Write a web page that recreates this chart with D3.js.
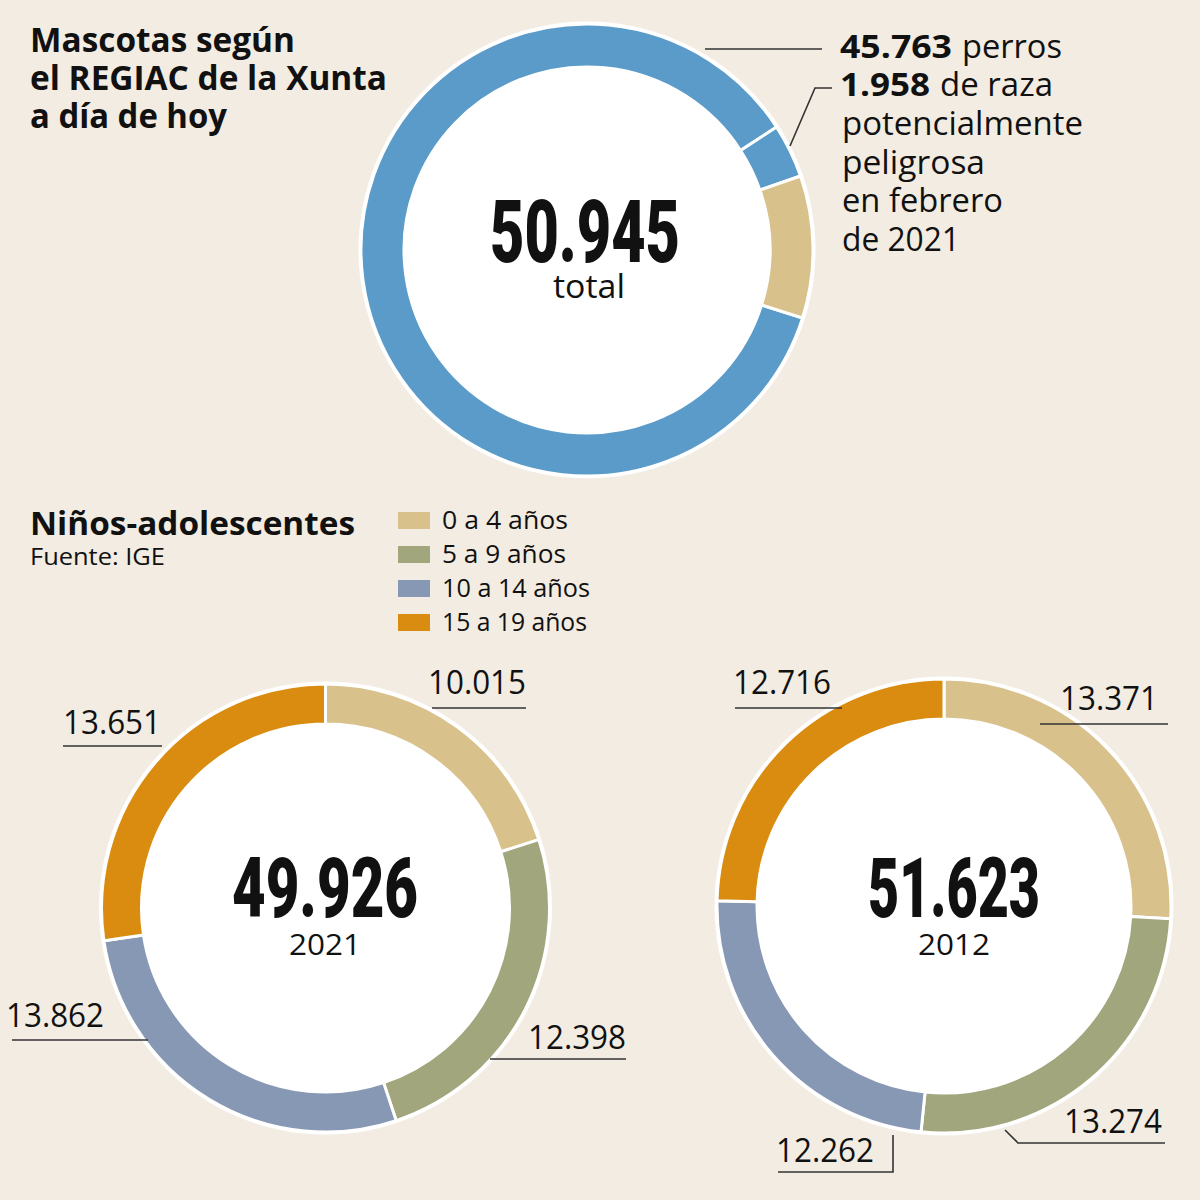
<!DOCTYPE html>
<html><head><meta charset="utf-8">
<script src="https://cdn.jsdelivr.net/npm/d3@7/dist/d3.min.js"></script>
<style>
html,body{margin:0;padding:0;background:#f3ece2;}
svg{display:block;}
</style></head>
<body><div id="chart"></div>
<script>
// ---------- DATA ----------
const topCategories = ["Perros (otras razas)", "Perros de raza potencialmente peligrosa", "Otras mascotas"];
const topValues = [43805, 1958, 5182];
const topTotal = 50945;
const topDogs = 45763;
const topDangerous = 1958;

const ageGroups = ["0 a 4 años", "5 a 9 años", "10 a 14 años", "15 a 19 años"];
const values2021 = [10015, 12398, 13862, 13651];
const values2012 = [13371, 13274, 12262, 12716];
const years = ["2021", "2012"];

// ---------- STYLE ----------
const W = 1200, H = 1200;
const bg = "#f3ece2";
const topColors = ["#5a9bc9", "#5a9bc9", "#d9c18b"];
const ageColor = d3.scaleOrdinal().domain(ageGroups).range(["#d9c18b", "#a1a67d", "#8798b4", "#d98c10"]);
const ink = "#111";
const bodyFont = "'Open Sans', 'Noto Sans', sans-serif";
const bigFont = "Roboto, 'Liberation Sans', sans-serif";

const es = d3.formatLocale({decimal: ",", thousands: ".", grouping: [3], currency: ["", "€"]});
const fmt = es.format(",d");

const svg = d3.select("#chart").append("svg").attr("width", W).attr("height", H);
svg.append("rect").attr("width", W).attr("height", H).attr("fill", bg);

function txt(g, s, x, y, opts) {
  const t = g.append("text").attr("x", x).attr("y", y).text(s)
    .attr("font-family", opts.family || bodyFont)
    .attr("font-size", opts.size)
    .attr("font-weight", opts.weight || 400)
    .attr("fill", ink)
    .attr("text-anchor", opts.anchor || "start");
  if (opts.len) t.attr("textLength", opts.len).attr("lengthAdjust", "spacingAndGlyphs");
  return t;
}

function donut(cx, cy, rOut, rIn, values, colors, startAngle) {
  const g = svg.append("g").attr("transform", `translate(${cx},${cy})`);
  g.append("circle").attr("r", rOut + 2.5).attr("fill", "#fff");
  const pie = d3.pie().sort(null).value(d => d)
    .startAngle(startAngle).endAngle(startAngle + 2 * Math.PI);
  const arc = d3.arc().innerRadius(rIn).outerRadius(rOut);
  g.selectAll("path").data(pie(values)).join("path")
    .attr("d", arc)
    .attr("fill", (d, i) => colors[i])
    .attr("stroke", "#fff").attr("stroke-width", 3);
  return g;
}

// ---------- TOP: Mascotas ----------
const titleLines = ["Mascotas según", "el REGIAC de la Xunta", "a día de hoy"];
const titleLens = [265, 357, 197];
titleLines.forEach((s, i) => txt(svg, s, 30, 52 + i * 38, {size: 34, weight: 700, len: titleLens[i]}));

donut(587, 250, 226, 183, topValues, topColors, 107.5 * Math.PI / 180);

txt(svg, fmt(topTotal), 585, 262, {size: 88, weight: 900, family: bigFont, anchor: "middle", len: 190});
txt(svg, "total", 589, 298, {size: 32, anchor: "middle", len: 72});

// right annotation
const ann = svg.append("g");
const t1 = ann.append("text").attr("x", 840).attr("y", 58).attr("font-family", bodyFont).attr("font-size", 33).attr("fill", ink);
t1.append("tspan").attr("font-weight", 700).text(fmt(topDogs)).attr("textLength", 112).attr("lengthAdjust", "spacingAndGlyphs");
t1.append("tspan").attr("x", 962).text("perros").attr("textLength", 100).attr("lengthAdjust", "spacingAndGlyphs");
const t2 = ann.append("text").attr("x", 840).attr("y", 96).attr("font-family", bodyFont).attr("font-size", 33).attr("fill", ink);
t2.append("tspan").attr("font-weight", 700).text(fmt(topDangerous)).attr("textLength", 90).attr("lengthAdjust", "spacingAndGlyphs");
t2.append("tspan").attr("x", 940).text("de raza").attr("textLength", 113).attr("lengthAdjust", "spacingAndGlyphs");
const annLines = ["potencialmente", "peligrosa", "en febrero", "de 2021"];
const annLens = [241, 143, 161, 118];
annLines.forEach((s, i) => txt(ann, s, 842, 135 + i * 38.5, {size: 33, len: annLens[i]}));

const line = d3.line();
svg.append("path").attr("d", line([[705, 49], [822, 49]])).attr("stroke", "#333").attr("stroke-width", 1.6).attr("fill", "none");
svg.append("path").attr("d", line([[790, 146], [815, 88], [832, 88]])).attr("stroke", "#333").attr("stroke-width", 1.6).attr("fill", "none");

// ---------- BOTTOM: Niños-adolescentes ----------
txt(svg, "Niños-adolescentes", 30, 535, {size: 32, weight: 700, len: 325});
txt(svg, "Fuente: IGE", 30, 565, {size: 23, len: 135});

const legend = svg.append("g");
const legendLens = [126, 124, 148, 145];
ageGroups.forEach((a, i) => {
  legend.append("rect").attr("x", 398).attr("y", 512 + i * 34).attr("width", 32).attr("height", 17).attr("fill", ageColor(a));
  txt(legend, a, 442, 529 + i * 34, {size: 25, len: legendLens[i]});
});

const donuts = [
  {values: values2021, year: years[0], cx: 325.5, cy: 908, rOut: 224, rIn: 184, tx: 325, numLen: 186,
   labels: [
     {x: 526, y: 694, anchor: "end", pts: [[432, 708], [526, 708]]},
     {x: 626, y: 1049, anchor: "end", pts: [[490, 1059], [626, 1059]]},
     {x: 6, y: 1027, anchor: "start", pts: [[12, 1040], [148, 1040]]},
     {x: 63, y: 734, anchor: "start", pts: [[63, 746], [162, 746]]}
   ]},
  {values: values2012, year: years[1], cx: 944, cy: 906, rOut: 227, rIn: 187, tx: 954, numLen: 172,
   labels: [
     {x: 1158, y: 710, anchor: "end", pts: [[1040, 724], [1168, 724]]},
     {x: 1162, y: 1133, anchor: "end", pts: [[1005, 1130], [1018, 1143], [1165, 1143]]},
     {x: 776, y: 1162, anchor: "start", pts: [[778, 1172], [893, 1172], [893, 1135]]},
     {x: 733, y: 694, anchor: "start", pts: [[735, 708], [842, 708]]}
   ]}
];

donuts.forEach(d => {
  donut(d.cx, d.cy, d.rOut, d.rIn, d.values, ageGroups.map(a => ageColor(a)), 0);
  const total = d3.sum(d.values);
  txt(svg, fmt(total), d.tx, 917, {size: 83, weight: 900, family: bigFont, anchor: "middle", len: d.numLen});
  txt(svg, d.year, d.tx, 955, {size: 30, anchor: "middle", len: 72});
  d.values.forEach((v, i) => {
    const L = d.labels[i];
    txt(svg, fmt(v), L.x, L.y, {size: 33, anchor: L.anchor, len: 98});
    svg.append("path").attr("d", line(L.pts)).attr("stroke", "#333").attr("stroke-width", 1.6).attr("fill", "none");
  });
});
</script>
</body></html>
